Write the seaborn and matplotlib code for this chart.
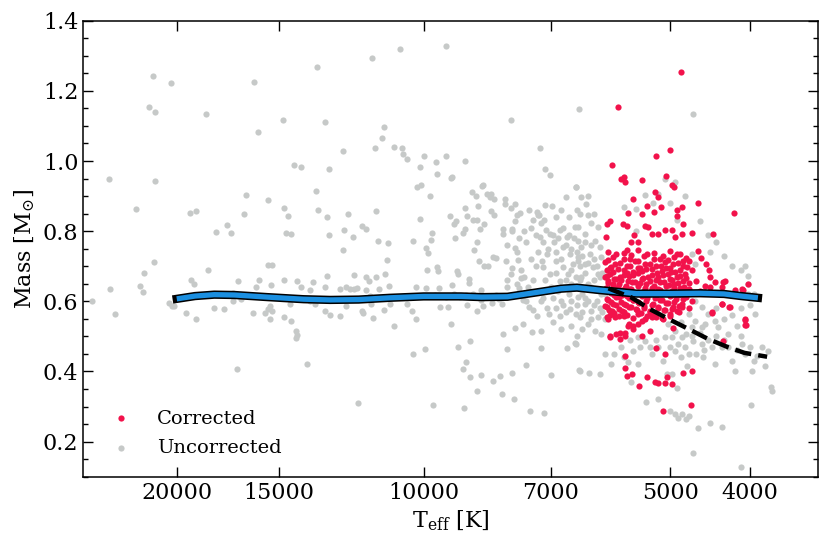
import matplotlib
matplotlib.use("Agg")
import matplotlib.pyplot as plt
from matplotlib.ticker import MultipleLocator, NullLocator
import seaborn as sns

# white dwarf masses vs Teff: uncorrected (grey) and corrected (red) samples
uncorrected = [
    (13500, 1.269), (21400, 1.243), (20350, 1.222), (16100, 1.225), (21600, 1.153), (21250, 1.140),
    (18400, 1.134), (14850, 1.116), (13200, 1.111), (15900, 1.083), (14400, 0.990), (14100, 0.984),
    (13050, 0.976), (24200, 0.949), (21270, 0.944), (16460, 0.904), (13520, 0.915), (15470, 0.890),
    (22430, 0.862), (19290, 0.853), (18930, 0.858), (16550, 0.850), (14810, 0.866), (14630, 0.844),
    (13460, 0.859), (13100, 0.839), (17350, 0.817), (17900, 0.799), (17190, 0.795), (14720, 0.795),
    (14500, 0.793), (13050, 0.788), (21300, 0.711), (21940, 0.681), (18330, 0.688), (15470, 0.703),
    (15300, 0.704), (24110, 0.635), (22200, 0.643), (22000, 0.626), (19210, 0.662), (19030, 0.649),
    (16840, 0.658), (15870, 0.660), (16000, 0.640), (15330, 0.647), (14790, 0.662), (14250, 0.659),
    (14100, 0.640), (13630, 0.656), (13200, 0.640), (13740, 0.631), (13100, 0.671), (25400, 0.602),
    (23800, 0.565), (20430, 0.594), (20270, 0.586), (20130, 0.587), (19480, 0.567), (18960, 0.551),
    (18020, 0.582), (17500, 0.578), (17100, 0.625), (17100, 0.602), (16700, 0.608), (16140, 0.567),
    (15630, 0.567), (15380, 0.586), (15470, 0.578), (15300, 0.573), (15380, 0.551), (14790, 0.554),
    (14560, 0.593), (14490, 0.543), (14290, 0.514), (14290, 0.496), (14270, 0.505), (13560, 0.591),
    (13740, 0.600), (13180, 0.571), (13000, 0.561), (16900, 0.406), (13880, 0.422),
    (11570, 1.293), (10680, 1.318), (9380, 1.328), (7820, 1.116), (7220, 1.037), (7110, 0.976),
    (7010, 0.960), (11190, 1.098), (11240, 1.065), (11460, 1.036), (10880, 1.039), (10610, 1.037),
    (10600, 1.021), (10480, 1.006), (12540, 1.029), (10000, 1.013), (10100, 0.982), (9660, 0.998),
    (9400, 1.014), (9620, 0.962), (8900, 0.999), (9260, 0.951), (9240, 0.955), (10180, 0.926),
    (10080, 0.931), (9820, 0.900), (8460, 0.933), (8490, 0.930), (8720, 0.912), (8620, 0.900),
    (8270, 0.905), (8200, 0.893), (7950, 0.893), (7950, 0.878), (7740, 0.877), (7830, 0.867),
    (7630, 0.851), (7690, 0.846), (7430, 0.859), (7270, 0.856), (7230, 0.846), (7110, 0.875),
    (6970, 0.871), (6710, 0.897), (6510, 0.926), (6460, 1.147), (12380, 0.849), (11440, 0.858),
    (11900, 0.814), (11760, 0.807), (12500, 0.802), (12200, 0.783), (11360, 0.773), (11040, 0.767),
    (10290, 0.771), (10110, 0.834), (9800, 0.774), (9770, 0.796), (9930, 0.752), (9870, 0.738),
    (9280, 0.844), (9140, 0.830), (9170, 0.821), (9160, 0.781), (8950, 0.796), (8900, 0.805),
    (8850, 0.842), (8910, 0.866), (8710, 0.831), (8600, 0.831), (8590, 0.873), (8440, 0.821),
    (8540, 0.805), (8680, 0.746), (8610, 0.770), (8280, 0.858), (8200, 0.847), (8290, 0.897),
    (8360, 0.905), (12550, 0.747), (11080, 0.719), (11140, 0.679), (11430, 0.670), (12170, 0.675),
    (11740, 0.669), (11640, 0.658), (9900, 0.690), (9620, 0.697), (9600, 0.687), (9100, 0.686),
    (9090, 0.678), (8810, 0.664), (8800, 0.652), (8550, 0.716), (8440, 0.701), (8350, 0.701),
    (8220, 0.725), (8150, 0.724), (7940, 0.716), (7800, 0.696), (7830, 0.678), (7660, 0.719),
    (7600, 0.667), (7550, 0.668), (7740, 0.752), (7540, 0.800), (7800, 0.807), (7790, 0.800),
    (8000, 0.791), (7740, 0.829), (8000, 0.805), (7350, 0.833), (7260, 0.845), (7200, 0.822),
    (7120, 0.833), (7210, 0.783), (7080, 0.804),
    (12660, 0.557), (11880, 0.571), (11840, 0.567), (11540, 0.553), (10860, 0.530), (10310, 0.451),
    (9960, 0.464), (12030, 0.309), (9740, 0.304), (8920, 0.296), (9260, 0.536), (9070, 0.471),
    (8780, 0.487), (8880, 0.428), (8960, 0.408), (8780, 0.383), (8520, 0.390), (8610, 0.345),
    (8220, 0.373), (8070, 0.386), (8020, 0.337), (7800, 0.397), (7750, 0.321), (7910, 0.464),
    (8010, 0.507), (7740, 0.525), (7570, 0.535), (7490, 0.419), (7410, 0.286), (7120, 0.281),
    (7380, 0.513), (7200, 0.514), (7200, 0.466), (7000, 0.391), (6690, 0.466), (6530, 0.481),
    (6460, 0.404),
    (12630, 0.635), (12420, 0.640), (12290, 0.634), (12150, 0.635), (12070, 0.637), (12430, 0.586),
    (11750, 0.633), (11610, 0.615), (11580, 0.591), (11340, 0.634), (11270, 0.609), (11180, 0.575),
    (11020, 0.645), (10990, 0.592), (10490, 0.593), (10330, 0.573), (10220, 0.550), (10210, 0.640),
    (9920, 0.637), (9690, 0.618), (9580, 0.637), (9540, 0.583), (9400, 0.613), (9330, 0.583),
    (9220, 0.647), (9190, 0.621), (9020, 0.611), (8880, 0.619), (8840, 0.589), (8710, 0.621),
    (8600, 0.573), (8520, 0.631), (8500, 0.604), (8460, 0.587), (8240, 0.596), (8170, 0.618),
    (8100, 0.608), (8020, 0.591), (7920, 0.640), (7830, 0.615), (7650, 0.637), (7560, 0.604),
    (7430, 0.585), (7350, 0.576), (7280, 0.557), (7190, 0.602), (7070, 0.581), (7040, 0.564),
    (6960, 0.540), (6820, 0.559), (6760, 0.589), (6620, 0.578), (6510, 0.564),
    (7010, 0.793), (6940, 0.769), (6820, 0.802), (6760, 0.755), (6680, 0.783), (6630, 0.735),
    (6540, 0.811), (6480, 0.773), (6890, 0.716), (6760, 0.697), (6670, 0.678), (6570, 0.707),
    (6480, 0.726), (7010, 0.678), (6820, 0.659), (6610, 0.650), (6510, 0.669), (7070, 0.735),
    (7170, 0.716), (7140, 0.697),
    (6510, 0.926), (6420, 0.897), (6330, 0.878), (6450, 0.850), (6300, 0.845), (6480, 0.811),
    (6360, 0.793), (6240, 0.822), (6120, 0.811), (6180, 0.773), (6100, 0.754), (6420, 0.754),
    (6270, 0.735), (6070, 0.726), (6480, 0.716), (6360, 0.707), (6210, 0.697), (6120, 0.678),
    (6420, 0.669), (6300, 0.650), (6180, 0.631), (6070, 0.621), (6480, 0.611), (6360, 0.593),
    (6240, 0.573), (6120, 0.554), (6450, 0.554), (6300, 0.535), (6180, 0.516), (6070, 0.507),
    (6510, 0.478), (6450, 0.402), (6290, 0.395), (6100, 0.394), (6010, 0.450),
    (7150, 0.770), (7050, 0.750), (6950, 0.790), (6900, 0.740), (6850, 0.780), (6800, 0.720),
    (6750, 0.810), (6700, 0.760), (6650, 0.790), (6600, 0.750), (6550, 0.780), (6500, 0.740),
    (6450, 0.700), (6400, 0.730), (6350, 0.770), (6300, 0.710), (6250, 0.760), (6200, 0.720),
    (6150, 0.700), (6100, 0.670), (7100, 0.660), (7000, 0.640), (6900, 0.680), (6850, 0.630),
    (6700, 0.660), (6650, 0.620), (6600, 0.690), (6550, 0.640), (6450, 0.660), (6400, 0.620),
    (6350, 0.680), (6300, 0.600), (6250, 0.640), (6200, 0.660), (6150, 0.600), (6100, 0.580),
    (6950, 0.610), (6900, 0.580), (6800, 0.600), (6700, 0.570), (6600, 0.600), (6500, 0.590),
    (6400, 0.570), (6350, 0.610), (6250, 0.550), (6200, 0.590), (6050, 0.570), (6050, 0.680),
    (6000, 0.620), (6000, 0.550), (7250, 0.740), (7300, 0.700), (7350, 0.660), (7250, 0.630),
    (7150, 0.610), (6900, 0.840), (6800, 0.860), (6650, 0.840), (6500, 0.860), (6300, 0.900),
    (6200, 0.850), (6600, 0.530), (6400, 0.520), (6800, 0.520), (6500, 0.500),
    (7900, 0.760), (7700, 0.740), (7500, 0.770), (7400, 0.720), (7600, 0.690), (7450, 0.640),
    (7700, 0.650), (7900, 0.660), (7500, 0.600), (7300, 0.790), (7400, 0.810), (7650, 0.780),
    (5370, 0.902), (5080, 0.950), (4930, 0.940), (4910, 0.831), (5510, 0.864), (5170, 0.907),
    (4710, 0.735), (4470, 0.740), (4660, 0.707), (4020, 0.673), (3940, 0.564), (4020, 0.621),
    (3870, 0.469), (3800, 0.459), (3830, 0.416), (3980, 0.402), (4170, 0.402), (4410, 0.421),
    (4560, 0.440), (4750, 0.450), (4930, 0.459), (4840, 0.497), (4930, 0.516), (4710, 0.526),
    (4540, 0.535), (4370, 0.526), (4250, 0.507), (4090, 0.478), (4330, 0.469), (4580, 0.478),
    (5080, 0.497), (5170, 0.469), (5270, 0.450), (5370, 0.488), (5480, 0.497), (5560, 0.459),
    (5630, 0.426), (5480, 0.421), (5580, 0.369), (5350, 0.314), (5170, 0.321), (5010, 0.288),
    (4930, 0.278), (4840, 0.278), (4790, 0.264), (4750, 0.273), (4630, 0.240), (4470, 0.254),
    (4330, 0.243), (3990, 0.305), (3770, 0.357), (3760, 0.343), (4690, 0.169), (4100, 0.129),
    (4900, 0.267), (5050, 0.393), (4910, 0.354), (4980, 0.393), (4770, 0.416), (4690, 1.135),
    (4750, 0.621), (4660, 0.602), (4580, 0.583), (4500, 0.564), (4410, 0.545), (4750, 0.564),
    (4660, 0.545), (4580, 0.526), (4790, 0.507), (4690, 0.488), (4890, 0.478), (4980, 0.497),
    (5030, 0.535), (4210, 0.431), (3920, 0.445), (4020, 0.650),
    (4850, 0.540), (4700, 0.500), (4600, 0.510), (4500, 0.490), (4450, 0.470), (4400, 0.500),
    (4300, 0.490), (4250, 0.470), (4150, 0.460), (4100, 0.500), (4050, 0.450), (4000, 0.470),
    (3950, 0.430), (4400, 0.580), (4300, 0.550), (4200, 0.560), (4100, 0.580), (4000, 0.590),
    (3950, 0.620), (4150, 0.530), (4550, 0.460), (4650, 0.450), (4800, 0.470), (4850, 0.440),
    (5000, 0.470), (5100, 0.430), (5200, 0.490), (5300, 0.470), (5450, 0.470), (5600, 0.490),
    (5750, 0.470), (5850, 0.450), (5900, 0.420), (5700, 0.440),
    (5700, 0.870), (5500, 0.800), (5250, 0.880), (5000, 0.880), (4800, 0.900), (4600, 0.830),
    (4500, 0.790), (4400, 0.770), (4300, 0.730), (4200, 0.700), (4100, 0.690), (4050, 0.700),
]

corrected = [
    (4850, 1.253), (5790, 1.154), (5000, 1.031), (5210, 1.015), (5890, 0.988), (5750, 0.949),
    (5700, 0.953), (5680, 0.939), (5410, 0.947), (5060, 0.957), (4970, 0.931), (4950, 0.926),
    (4620, 0.880), (4180, 0.853), (5550, 0.893), (5340, 0.871), (5220, 0.911), (5170, 0.897),
    (5130, 0.868), (5230, 0.855), (4840, 0.869), (4910, 0.859), (4910, 0.842), (5420, 0.848),
    (5630, 0.851), (5710, 0.819), (5650, 0.816), (5980, 0.819), (5920, 0.829), (5990, 0.783),
    (5370, 0.815), (5320, 0.813), (5270, 0.793), (5170, 0.793), (5080, 0.802), (4980, 0.802),
    (4930, 0.783), (4840, 0.793), (4710, 0.796), (4430, 0.791), (4830, 0.821), (5530, 0.789),
    (5590, 0.769), (5650, 0.747), (5480, 0.769),
    (4620, 0.743), (4590, 0.724), (4520, 0.707), (4480, 0.690), (4470, 0.669), (4310, 0.654),
    (4290, 0.659), (4080, 0.631), (4020, 0.648), (4060, 0.547), (4050, 0.533), (4330, 0.591),
    (4240, 0.583), (4450, 0.566), (4310, 0.488), (4700, 0.400), (4820, 0.395), (4720, 0.305),
    (5110, 0.287), (5220, 0.371), (5170, 0.366), (5080, 0.366), (5050, 0.383), (4970, 0.364),
    (5340, 0.383), (5460, 0.359), (5570, 0.393), (5680, 0.410), (5640, 0.388), (5680, 0.445),
    (4960, 0.523), (5080, 0.451), (5210, 0.467), (5920, 0.497), (5820, 0.507), (5760, 0.493),
    (5680, 0.511), (5610, 0.535), (5550, 0.530), (5420, 0.545), (5270, 0.564),
    (4540, 0.645), (4470, 0.640), (4410, 0.654), (4330, 0.640), (4170, 0.631), (4090, 0.635),
    (4330, 0.593), (4450, 0.569), (4230, 0.583), (4060, 0.550), (4040, 0.533),
    (5950, 0.550), (5840, 0.554), (5760, 0.511), (5930, 0.502), (5630, 0.530), (5680, 0.502),
    (5480, 0.536), (5560, 0.521), (5370, 0.550), (5270, 0.556), (5200, 0.554), (5100, 0.550),
    (5010, 0.559), (4910, 0.573), (4840, 0.583), (5420, 0.502), (5300, 0.516),
    (5950, 0.742), (5700, 0.737), (5480, 0.745), (5230, 0.739), (5010, 0.744), (4860, 0.736),
    (5880, 0.727), (5600, 0.722), (5390, 0.729), (5150, 0.721), (4950, 0.726), (4780, 0.723),
    (6000, 0.712), (5760, 0.708), (5520, 0.714), (5300, 0.706), (5080, 0.711), (4900, 0.709), (4740, 0.714),
    (5900, 0.698), (5650, 0.702), (5440, 0.694), (5210, 0.700), (5000, 0.696), (4820, 0.701),
    (5980, 0.688), (5800, 0.691), (5560, 0.685), (5350, 0.692), (5120, 0.687), (4930, 0.684), (4700, 0.689),
    (5920, 0.679), (5700, 0.676), (5480, 0.681), (5260, 0.674), (5040, 0.678), (4860, 0.673),
    (6010, 0.668), (5830, 0.664), (5620, 0.671), (5400, 0.666), (5180, 0.669), (4970, 0.662), (4780, 0.667),
    (5950, 0.657), (5740, 0.661), (5520, 0.654), (5300, 0.659), (5090, 0.655), (4900, 0.652), (4650, 0.658),
    (5870, 0.648), (5660, 0.645), (5450, 0.651), (5230, 0.643), (5020, 0.647), (4810, 0.642),
    (5990, 0.638), (5790, 0.642), (5580, 0.636), (5370, 0.639), (5150, 0.633), (4950, 0.637), (4740, 0.634),
    (5920, 0.627), (5710, 0.631), (5500, 0.624), (5280, 0.629), (5060, 0.625), (4870, 0.622), (4600, 0.628),
    (5850, 0.618), (5640, 0.614), (5420, 0.620), (5200, 0.613), (4990, 0.617), (4790, 0.612),
    (5980, 0.607), (5770, 0.611), (5560, 0.604), (5340, 0.609), (5120, 0.603), (4920, 0.606), (4700, 0.602),
    (5900, 0.597), (5690, 0.593), (5470, 0.599), (5250, 0.592), (5040, 0.596), (4840, 0.591),
    (6000, 0.586), (5820, 0.589), (5610, 0.583), (5390, 0.587), (5170, 0.581), (4960, 0.585), (4750, 0.582),
    (5940, 0.576), (5730, 0.573), (5510, 0.578), (5290, 0.571), (5080, 0.575), (4880, 0.570),
    (5860, 0.566), (5650, 0.562), (5430, 0.568), (5210, 0.561), (5000, 0.565),
    (5980, 0.556), (5770, 0.559), (5560, 0.553), (5340, 0.557), (5120, 0.552),
    (5830, 0.735), (5590, 0.731), (5340, 0.736), (5110, 0.730), (4910, 0.734),
    (5960, 0.717), (5700, 0.721), (5470, 0.716), (5240, 0.722), (5030, 0.718), (4830, 0.715),
    (5840, 0.706), (5600, 0.701), (5370, 0.707), (5140, 0.702), (4960, 0.705), (4770, 0.699),
    (5930, 0.694), (5700, 0.690), (5480, 0.696), (5260, 0.691), (5060, 0.695), (4870, 0.689),
    (5870, 0.684), (5640, 0.680), (5420, 0.686), (5190, 0.681), (4990, 0.685), (4800, 0.679),
    (5980, 0.673), (5760, 0.669), (5550, 0.675), (5330, 0.670), (5110, 0.674), (4910, 0.668),
    (5860, 0.663), (5630, 0.659), (5410, 0.665), (5200, 0.660), (5000, 0.664), (4820, 0.658),
    (5960, 0.653), (5770, 0.649), (5570, 0.655), (5360, 0.650), (5150, 0.654), (4950, 0.648), (4750, 0.652),
    (5880, 0.642), (5680, 0.638), (5470, 0.644), (5260, 0.639), (5060, 0.643), (4870, 0.637),
    (5990, 0.633), (5800, 0.629), (5600, 0.635), (5390, 0.630), (5180, 0.634), (4980, 0.628), (4780, 0.632),
    (5910, 0.623), (5720, 0.619), (5520, 0.625), (5310, 0.620), (5100, 0.624), (4900, 0.618),
    (5820, 0.613), (5620, 0.609), (5420, 0.615), (5220, 0.610), (5010, 0.614), (4820, 0.608),
    (5960, 0.603), (5750, 0.599), (5550, 0.605), (5350, 0.600), (5150, 0.604), (4950, 0.598),
    (5870, 0.593), (5660, 0.589), (5460, 0.595), (5260, 0.590), (5060, 0.594), (4880, 0.588),
    (5980, 0.583), (5780, 0.579), (5580, 0.585), (5380, 0.580), (5180, 0.584), (4980, 0.578),
    (5890, 0.573), (5690, 0.569), (5490, 0.575), (5290, 0.570), (5090, 0.574),
    (5920, 0.562), (5700, 0.558), (5480, 0.564), (5260, 0.559),
]

# mean mass trend of the corrected sample (blue) and of the uncorrected one (dashed)
fit_teff = [20000, 19000, 18000, 17000, 15500, 14000, 13000, 12000, 11000, 10000, 9000, 8500,
            7900, 7300, 6800, 6500, 6100, 5500, 5000, 4600, 4300, 4100, 3910]
fit_mass = [0.607, 0.615, 0.619, 0.618, 0.612, 0.606, 0.604, 0.605, 0.610, 0.614, 0.614, 0.612,
            0.613, 0.625, 0.636, 0.639, 0.632, 0.622, 0.622, 0.623, 0.621, 0.615, 0.610]
unc_teff = [5950, 5580, 5270, 4980, 4750, 4500, 4250, 4060, 3810]
unc_mass = [0.637, 0.611, 0.575, 0.545, 0.521, 0.493, 0.469, 0.453, 0.442]

xticks = [20000, 15000, 10000, 7000, 5000, 4000]
yticks = [0.2, 0.4, 0.6, 0.8, 1.0, 1.2, 1.4]

RED = "#f2124b"
GREY = "#c6c9c8"
BLUE = "#1b8fe0"

sns.set_style("ticks")
plt.rcParams["font.family"] = ["DejaVu Serif"]
plt.rcParams["mathtext.fontset"] = "dejavuserif"
plt.rcParams["axes.edgecolor"] = "black"
plt.rcParams["xtick.color"] = "black"
plt.rcParams["ytick.color"] = "black"
plt.rcParams["text.color"] = "black"
plt.rcParams["axes.labelcolor"] = "black"

teff_u, mass_u = zip(*uncorrected)
teff_c, mass_c = zip(*corrected)

fig = plt.figure(figsize=(8.3, 5.46), dpi=100)
ax = fig.add_axes([0.1004, 0.1269, 0.8855, 0.8352])

sns.scatterplot(x=list(teff_u), y=list(mass_u), color=GREY, s=20, linewidth=0,
                ax=ax, zorder=1)
sns.scatterplot(x=list(teff_c), y=list(mass_c), color=RED, s=20, linewidth=0,
                ax=ax, zorder=2)
h_unc, h_cor = ax.collections[0], ax.collections[1]

ax.plot(fit_teff, fit_mass, color="black", lw=6, solid_capstyle="projecting", zorder=3)
ax.plot(fit_teff, fit_mass, color=BLUE, lw=3.8, solid_capstyle="butt", zorder=4)
ax.plot(unc_teff, unc_mass, color="black", lw=3.2, ls="--", zorder=5)

ax.set_xscale("log")
ax.set_xlim(26000, 3300)
ax.set_ylim(0.1, 1.4)
ax.set_xticks(xticks)
ax.set_xticklabels([str(t) for t in xticks])
ax.xaxis.set_minor_locator(NullLocator())
ax.set_yticks(yticks)
ax.set_yticklabels([f"{v:.1f}" for v in yticks])
ax.yaxis.set_minor_locator(MultipleLocator(0.05))

ax.tick_params(which="both", direction="in", top=True, right=True, labelsize=16)
ax.tick_params(which="major", length=7, width=1)
ax.tick_params(which="minor", length=3.5, width=1)
for sp in ax.spines.values():
    sp.set_linewidth(1.1)

ax.set_xlabel(r"T$_{\rm eff}$ [K]", fontsize=16)
ax.set_ylabel(r"Mass [M$_{\odot}$]", fontsize=16)

ax.legend([h_cor, h_unc], ["Corrected", "Uncorrected"], loc="lower left", frameon=False,
          fontsize=14, handlelength=1.85, handletextpad=0.93, borderaxespad=0.6,
          labelspacing=0.6)

fig.savefig("out.png", dpi=100)
